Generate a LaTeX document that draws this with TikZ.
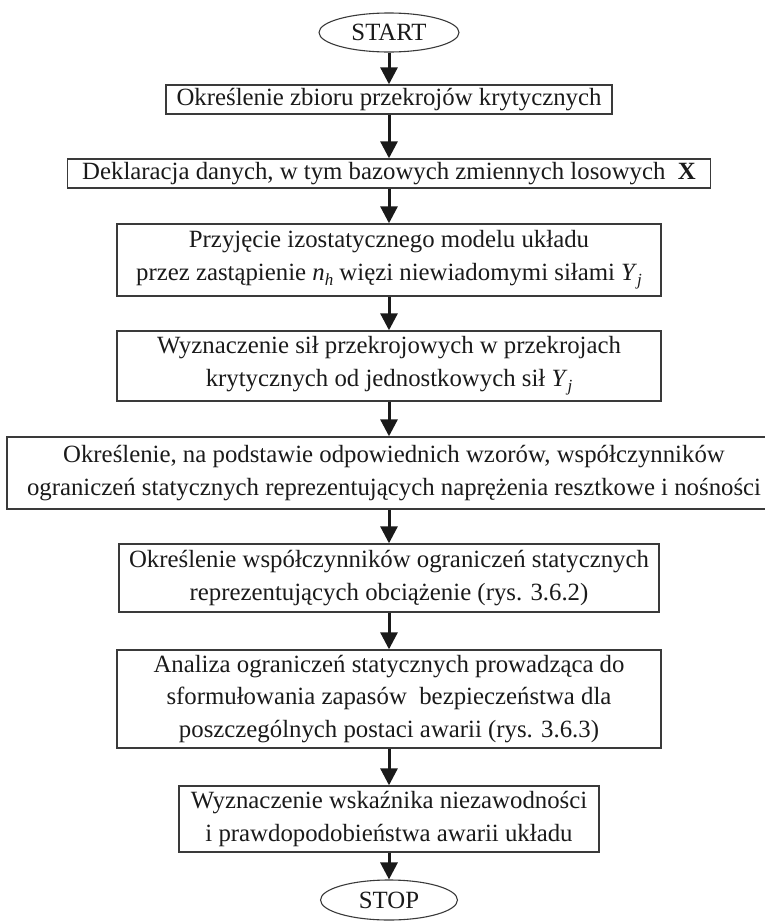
\documentclass[tikz,border=0pt]{standalone}
\usepackage{fontspec}
\setmainfont{Liberation Serif}
\usetikzlibrary{arrows.meta,shapes.geometric}
\definecolor{boxgray}{HTML}{3A3A3A}
\definecolor{inkc}{HTML}{1A1A1A}
\newcommand{\varsub}[2]{\textit{#1}\raisebox{-0.45ex}{\fontsize{17}{17}\selectfont\textit{#2}}}
\tikzset{
  box/.style={draw=boxgray, line width=1.4pt, inner sep=0pt, align=center,
    text=inkc, font=\fontsize{24.8}{32.5}\selectfont},
  term/.style={ellipse, draw=boxgray, line width=1.1pt, inner sep=0pt,
    text=inkc, font=\fontsize{24.8}{28}\selectfont},
  flow/.style={draw=inkc, line width=3pt, -{Triangle[length=17pt,width=17pt]}}
}
\begin{document}
\begin{tikzpicture}[x=1pt,y=-1pt]
\path[use as bounding box] (0,0) rectangle (765,921);
\clip (0,0) rectangle (765,921);
\node[term, minimum width=140pt, minimum height=39pt] (start) at (389,32.5) {START};
\node[box, minimum width=446pt, minimum height=29pt] (b1) at (389,99.5) {Określenie zbioru przekrojów krytycznych};
\node[box, minimum width=643pt, minimum height=29pt] (b2) at (389,173.5) {Deklaracja danych, w tym bazowych zmiennych losowych\ \ \textbf{X}};
\node[box, minimum width=544pt, minimum height=72pt] (b3) at (389,260) {Przyjęcie izostatycznego modelu układu\\przez zastąpienie \varsub{n}{h} więzi niewiadomymi siłami \varsub{Y}{j}};
\node[box, minimum width=544pt, minimum height=70pt] (b4) at (389,366) {Wyznaczenie sił przekrojowych w przekrojach\\krytycznych od jednostkowych sił \varsub{Y}{j}};
\node[box, minimum width=774pt, minimum height=72pt] (b5) at (394,473) {Określenie, na podstawie odpowiednich wzorów, współczynników\\ograniczeń statycznych reprezentujących naprężenia resztkowe i nośności};
\node[box, minimum width=540pt, minimum height=68pt] (b6) at (389,578) {Określenie współczynników ograniczeń statycznych\\reprezentujących obciążenie (rys. 3.6.2)};
\node[box, minimum width=544pt, minimum height=98pt] (b7) at (389,699) {Analiza ograniczeń statycznych prowadząca do\\sformułowania zapasów\ \ bezpieczeństwa dla\\poszczególnych postaci awarii (rys. 3.6.3)};
\node[box, minimum width=420pt, minimum height=66pt] (b8) at (389,819) {Wyznaczenie wskaźnika niezawodności\\i prawdopodobieństwa awarii układu};
\node[term, minimum width=137pt, minimum height=40pt] (stop) at (389,900) {STOP};
\draw[flow] (start.south) -- (b1.north);
\draw[flow] (b1.south) -- (b2.north);
\draw[flow] (b2.south) -- (b3.north);
\draw[flow] (b3.south) -- (b4.north);
\draw[flow] (b4.south) -- (b5.north -| b4.south);
\draw[flow] (b5.south -| b6.north) -- (b6.north);
\draw[flow] (b6.south) -- (b7.north);
\draw[flow] (b7.south) -- (b8.north);
\draw[flow] (b8.south) -- (stop.north);
\end{tikzpicture}
\end{document}
